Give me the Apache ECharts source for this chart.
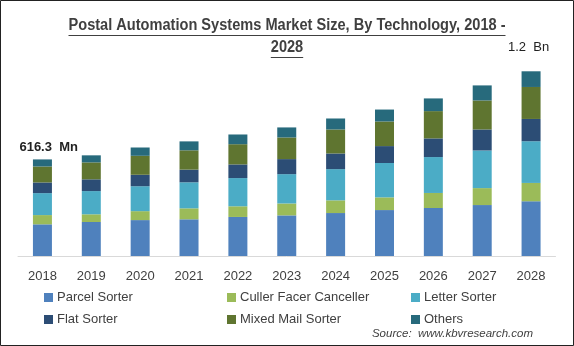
<!DOCTYPE html>
<html>
<head>
<meta charset="utf-8">
<script src="https://cdn.jsdelivr.net/npm/echarts@6/dist/echarts.min.js"></script>
<style>
html,body{margin:0;padding:0;background:#fff;}
#c{width:574px;height:346px;}
</style>
</head>
<body>
<div id="c"></div>
<script>
const years = ['2018','2019','2020','2021','2022','2023','2024','2025','2026','2027','2028'];
const parcel = [202,217,229,234,249,259,274,293,306,325,349];
const culler = [59,49,57,70,68,76,81,81,96,108,117];
const letter = [140,148,159,166,180,187,199,219,229,240,266];
const flat   = [68,75,73,81,87,96,100,108,119,134,142];
const mixed  = [102,108,121,123,129,138,153,157,174,185,204];
const others = [45,45,53,57,62,64,70,76,81,96,100];
const seriesNames = ['Parcel Sorter','Culler Facer Canceller','Letter Sorter','Flat Sorter','Mixed Mail Sorter','Others'];
const titleLine1 = 'Postal Automation Systems Market Size, By Technology, 2018 -';
const titleLine2 = '2028';
const startLabel = '616.3  Mn';
const endLabel = '1.2  Bn';
const sourceText = 'Source:  www.kbvresearch.com';

const colors = ['#4f81bd','#9bbb59','#4bacc6','#2c4d75','#5f7530','#276a7c'];
const dataSets = [parcel, culler, letter, flat, mixed, others];
const FONT = '"Liberation Sans", Arial, sans-serif';

const chart = echarts.init(document.getElementById('c'), null, {renderer:'canvas'});

function legendCol(names, left) {
  return {
    data: names, left: left, top: 286, orient: 'vertical', itemGap: 9,
    itemWidth: 9, itemHeight: 9, icon: 'rect',
    textStyle: {fontFamily: FONT, fontSize: 13, color: '#404040', padding: [0,0,0,-1]},
    selectedMode: false
  };
}

const series = seriesNames.map((n, i) => ({
  name: n, type: 'bar', stack: 'total', barWidth: 19,
  data: dataSets[i], itemStyle: {color: colors[i]},
  emphasis: {disabled: true}
}));

chart.setOption({
  animation: false,
  color: colors,
  grid: {left: 18, right: 18.5, top: 60, bottom: 90},
  xAxis: {
    type: 'category', data: years,
    axisLine: {lineStyle: {color: '#d9d9d9', width: 1}},
    axisTick: {show: false},
    axisLabel: {fontFamily: FONT, fontSize: 13, color: '#404040', margin: 14}
  },
  yAxis: {type: 'value', show: false, min: 0, max: 1250, splitLine: {show: false}},
  legend: [
    legendCol(['Parcel Sorter','Flat Sorter'], 39),
    legendCol(['Culler Facer Canceller','Mixed Mail Sorter'], 222),
    legendCol(['Letter Sorter','Others'], 406)
  ],
  series: series
});

const totals = years.map((_, k) => dataSets.reduce((s, arr) => s + arr[k], 0));
const p0 = chart.convertToPixel({gridIndex: 0}, [0, totals[0]]);
const pN = chart.convertToPixel({gridIndex: 0}, [years.length - 1, totals[years.length - 1]]);

// fit the title to the reference width (narrow face not installed)
const cv = document.createElement('canvas').getContext('2d');
const tFont = 'bold 16px ' + FONT;
cv.font = tFont;
const targetW = 437;
const raw1 = cv.measureText(titleLine1).width;
const sx = targetW / raw1;
const w1 = raw1 * sx;
const w2 = cv.measureText(titleLine2).width * sx;
const cx = 287;

chart.setOption({
  graphic: [
    {type: 'rect', shape: {x: 0.5, y: 0.5, width: 573, height: 345}, style: {fill: 'none', stroke: '#222', lineWidth: 1}, silent: true},
    {type: 'text', x: cx, y: 26, scaleX: sx, style: {text: titleLine1, font: tFont, fill: '#404040', align: 'center', verticalAlign: 'middle'}},
    {type: 'text', x: cx, y: 48, scaleX: sx, style: {text: titleLine2, font: tFont, fill: '#404040', align: 'center', verticalAlign: 'middle'}},
    {type: 'line', shape: {x1: cx - w1/2, y1: 35.5, x2: cx + w1/2, y2: 35.5}, style: {stroke: '#404040', lineWidth: 1}},
    {type: 'line', shape: {x1: cx - w2/2, y1: 57.5, x2: cx + w2/2, y2: 57.5}, style: {stroke: '#404040', lineWidth: 1}},
    {type: 'text', x: p0[0] - 23, y: p0[1] - 12, style: {text: startLabel, font: 'bold 13px ' + FONT, fill: '#222', align: 'left', verticalAlign: 'middle'}},
    {type: 'text', x: pN[0] - 2.5, y: pN[1] - 24, style: {text: endLabel, font: '13px ' + FONT, fill: '#222', align: 'center', verticalAlign: 'middle'}},
    {type: 'text', x: 533, y: 334, style: {text: sourceText, font: 'italic 11.5px ' + FONT, fill: '#404040', align: 'right', verticalAlign: 'middle'}}
  ]
});
</script>
</body>
</html>
